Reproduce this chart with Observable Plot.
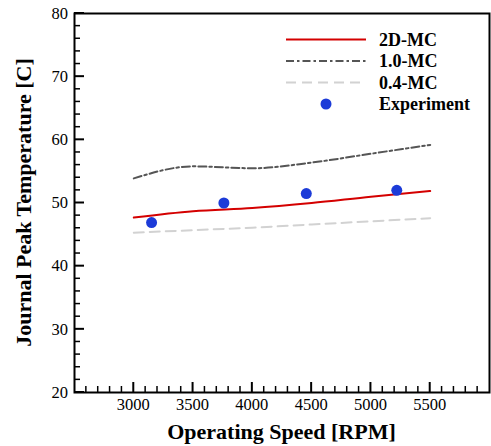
<!DOCTYPE html>
<html>
<head>
<meta charset="utf-8">
<script src="https://cdn.jsdelivr.net/npm/d3@7"></script>
<script src="https://cdn.jsdelivr.net/npm/@observablehq/plot@0.6"></script>
<style>
  html, body { margin: 0; padding: 0; background: #fff; }
  #chart { position: relative; width: 491px; height: 446px; }
</style>
</head>
<body>
<div id="chart"></div>
<script>
// ---- data ----
const speeds = [3000, 3500, 4000, 4500, 5000, 5500];
const mc2D   = [47.7, 48.7, 49.2, 50.0, 51.0, 51.9];
const mc10   = [53.9, 55.8, 55.5, 56.4, 57.8, 59.2];
const mc04   = [45.3, 45.7, 46.1, 46.6, 47.1, 47.6];
const expSpeed = [3150, 3760, 4455, 5218];
const expTemp  = [46.9, 50.0, 51.5, 52.0];
const xTicks = [3000, 3500, 4000, 4500, 5000, 5500];
const yTicks = [20, 30, 40, 50, 60, 70, 80];
const seriesNames = ["2D-MC", "1.0-MC", "0.4-MC", "Experiment"];

const styles = {
  "2D-MC":  {stroke: "#d40000", dash: null},
  "1.0-MC": {stroke: "#555555", dash: "8,3,2.5,3"},
  "0.4-MC": {stroke: "#d2d2d2", dash: "10,6"}
};
const expColor = "#1c3bd8";

const rows = (vals) => speeds.map((s, i) => ({x: s, y: vals[i]}));
const expRows = expSpeed.map((s, i) => ({x: s, y: expTemp[i]}));

const xMinor = d3.range(2600, 6000, 100).filter(v => v % 500 !== 0);
const yMinor = d3.range(22, 80, 2).filter(v => v % 10 !== 0);

const font = "Liberation Serif";

const W = 491, H = 446, mL = 74, mR = 2, mT = 13, mB = 54;

const plot = Plot.plot({
  width: W,
  height: H,
  marginLeft: mL,
  marginRight: mR,
  marginTop: mT,
  marginBottom: mB,
  style: {fontFamily: font, background: "#fff", color: "#000"},
  x: {domain: [2500, 6000], axis: null},
  y: {domain: [20, 80], axis: null},
  marks: [
    Plot.line(rows(mc04), {x: "x", y: "y", stroke: styles["0.4-MC"].stroke, strokeWidth: 2, strokeDasharray: styles["0.4-MC"].dash, curve: "monotone-x"}),
    Plot.line(rows(mc10), {x: "x", y: "y", stroke: styles["1.0-MC"].stroke, strokeWidth: 2, strokeDasharray: styles["1.0-MC"].dash, curve: "monotone-x"}),
    Plot.line(rows(mc2D), {x: "x", y: "y", stroke: styles["2D-MC"].stroke, strokeWidth: 2, curve: "monotone-x"}),
    Plot.dot(expRows, {x: "x", y: "y", r: 5.5, fill: expColor, stroke: "none"}),
    Plot.frame({stroke: "#000", strokeWidth: 2})
  ]
});

document.getElementById("chart").appendChild(plot);

// ---- axes drawn with the plot's own scales ----
const sx = plot.scale("x"), sy = plot.scale("y");
const X = v => sx.apply(v), Y = v => sy.apply(v);
const svg = d3.select(plot);
const ax = svg.append("g");
const yB = Y(20), xL = X(2500);
const tick = (x1, y1, x2, y2, w) => ax.append("path")
  .attr("d", `M${x1},${y1}L${x2},${y2}`)
  .attr("stroke", "#000").attr("stroke-width", w).attr("fill", "none");
xTicks.forEach(v => tick(X(v), yB, X(v), yB - 10, 2));
xMinor.forEach(v => tick(X(v), yB, X(v), yB - 6, 1.5));
yTicks.forEach(v => tick(xL, Y(v), xL + 10, Y(v), 2));
yMinor.forEach(v => tick(xL, Y(v), xL + 6, Y(v), 1.5));

const tl = svg.append("g").style("font-family", font).attr("font-size", 16.5).attr("fill", "#000");
xTicks.forEach(v => tl.append("text").attr("x", X(v)).attr("y", yB + 12).attr("dy", "0.35em").attr("text-anchor", "middle").text(v));
yTicks.forEach(v => tl.append("text").attr("x", xL - 6).attr("y", Y(v)).attr("dy", "0.35em").attr("text-anchor", "end").text(v));

const tt = svg.append("g").style("font-family", font).attr("font-size", 22).attr("font-weight", "bold").attr("fill", "#000").attr("text-anchor", "middle");
tt.append("text").attr("x", (X(2500) + X(6000)) / 2).attr("y", yB + 39).attr("dy", "0.35em").text("Operating Speed [RPM]");
tt.append("text").attr("transform", `translate(${xL - 51},${(Y(20) + Y(80)) / 2}) rotate(-90)`).attr("dy", "0.35em").text("Journal Peak Temperature [C]");

// ---- legend ----
const lg = svg.append("g").style("font-family", font).attr("font-size", 18).attr("font-weight", "bold");
const lx1 = 286, lx2 = 366, tx = 379, ly0 = 39.5, ldy = 21.5;
seriesNames.forEach((name, i) => {
  const y = ly0 + i * ldy;
  if (name === "Experiment") {
    lg.append("circle").attr("cx", (lx1 + lx2) / 2).attr("cy", y).attr("r", 5.5).attr("fill", expColor);
  } else {
    const st = styles[name];
    const l = lg.append("path").attr("d", `M${lx1},${y}L${lx2},${y}`)
      .attr("stroke", st.stroke).attr("stroke-width", 2).attr("fill", "none");
    if (st.dash) l.attr("stroke-dasharray", st.dash);
  }
  lg.append("text").attr("x", tx).attr("y", y).attr("dy", "0.35em").attr("text-anchor", "start").attr("fill", "#000").text(name);
});
</script>
</body>
</html>
